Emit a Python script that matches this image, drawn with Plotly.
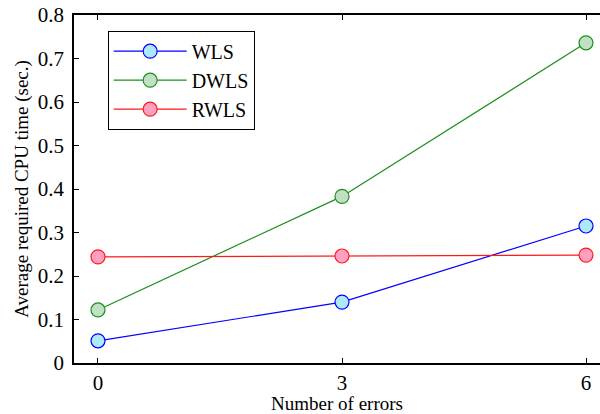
import plotly.graph_objects as go

errors = [0, 3, 6]
wls = [0.051, 0.140, 0.315]
dwls = [0.122, 0.383, 0.736]
rwls = [0.244, 0.246, 0.248]
y_ticks = [0, 0.1, 0.2, 0.3, 0.4, 0.5, 0.6, 0.7, 0.8]
y_tick_text = ["0", "0.1", "0.2", "0.3", "0.4", "0.5", "0.6", "0.7", "0.8"]

series = [
    ("WLS", wls, "#0000ff", "#aee9fb"),
    ("DWLS", dwls, "#1a8f1a", "#bfe0c2"),
    ("RWLS", rwls, "#ff1a1a", "#ff9fc2"),
]

fig = go.Figure()
for name, vals, lc, fc in series:
    fig.add_trace(go.Scatter(
        x=errors, y=vals, name=name, mode="lines+markers",
        line=dict(color=lc, width=1.2),
        marker=dict(symbol="circle", size=14, color=fc, line=dict(color=lc, width=1.2)),
    ))

font = "Liberation Serif"
fig.update_layout(
    width=600, height=414,
    margin=dict(l=74, r=0, t=15, b=51),
    plot_bgcolor="white", paper_bgcolor="white",
    font=dict(family=font, size=21, color="black"),
    showlegend=True,
    legend=dict(
        x=0.064, y=0.955, xanchor="left", yanchor="top",
        bgcolor="white", bordercolor="black", borderwidth=1,
        font=dict(family=font, size=20), itemwidth=73,
        tracegroupgap=0,
    ),
    xaxis=dict(
        range=[-0.295, 6.172], tickvals=errors, ticktext=[str(e) for e in errors],
        tickfont=dict(family=font, size=21, color="black"),
        ticks="inside", ticklen=5, tickcolor="black", showgrid=False, zeroline=False,
        showline=True, linecolor="black", linewidth=1.5, mirror="ticks",
        title=dict(text="Number of errors", font=dict(family=font, size=19), standoff=4),
    ),
    yaxis=dict(
        range=[0, 0.8], tickvals=y_ticks, ticktext=y_tick_text,
        tickfont=dict(family=font, size=21, color="black"),
        ticks="inside", ticklen=5, tickcolor="black", showgrid=False, zeroline=False,
        showline=True, linecolor="black", linewidth=1.5,
        ticklabelstandoff=4,
        title=dict(text="Average required CPU time (sec.)", font=dict(family=font, size=19), standoff=4),
    ),
)

fig.write_html(
    "out.html",
    config={"displayModeBar": False},
    post_script="document.body.style.margin='0';document.body.style.overflow='hidden';",
)
